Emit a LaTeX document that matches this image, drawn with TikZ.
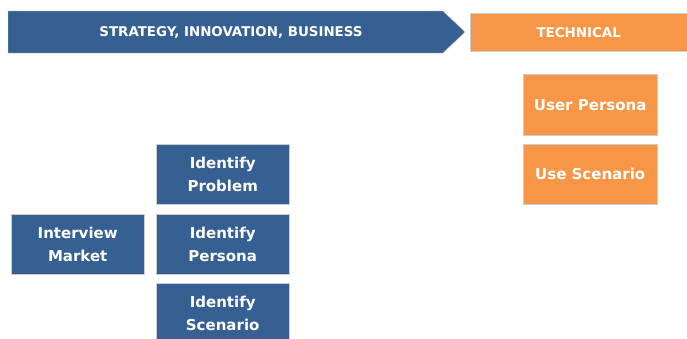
\documentclass[tikz,border=0pt]{standalone}
\usepackage{fontspec}
\setmainfont{DejaVu Sans}
\definecolor{bluebox}{HTML}{376092}
\definecolor{orangebox}{HTML}{F79646}
\begin{document}
\begin{tikzpicture}[x=1pt,y=-1pt,
  box/.style={draw=black!20, line width=0.4pt, text=white, font=\bfseries\fontsize{15}{23}\selectfont, align=center, inner sep=0pt},
  bluefill/.style={box, fill=bluebox},
  orangefill/.style={box, fill=orangebox},
  bannerfont/.style={font=\bfseries\fontsize{13.4}{15}\selectfont}]
\useasboundingbox (0,0) rectangle (687,338);
% banner
\fill[bluebox, draw=black!20, line width=0.4pt] (8,11) -- (443,11) -- (465,32) -- (443,53) -- (8,53) -- cycle;
\node[text=white, bannerfont] (strat) at (231,32) {STRATEGY, INNOVATION, BUSINESS};
\node[orangefill, minimum width=217, minimum height=38, anchor=north west, bannerfont] (tech) at (470,13) {TECHNICAL};
% technical boxes
\node[orangefill, minimum width=134, minimum height=61, anchor=north west] (upersona) at (523,74) {User Persona};
\node[orangefill, minimum width=134, minimum height=60, anchor=north west] (uscen) at (523,144) {Use Scenario};
% strategy boxes
\node[bluefill, minimum width=133, minimum height=60, anchor=north west] (iprob) at (156,144) {Identify\\Problem};
\node[bluefill, minimum width=133, minimum height=60, anchor=north west] (imarket) at (11,214) {Interview\\Market};
\node[bluefill, minimum width=133, minimum height=60, anchor=north west] (ipers) at (156,214) {Identify\\Persona};
\node[bluefill, minimum width=133, minimum height=60, anchor=north west] (iscen) at (156,283) {Identify\\Scenario};
\end{tikzpicture}
\end{document}
